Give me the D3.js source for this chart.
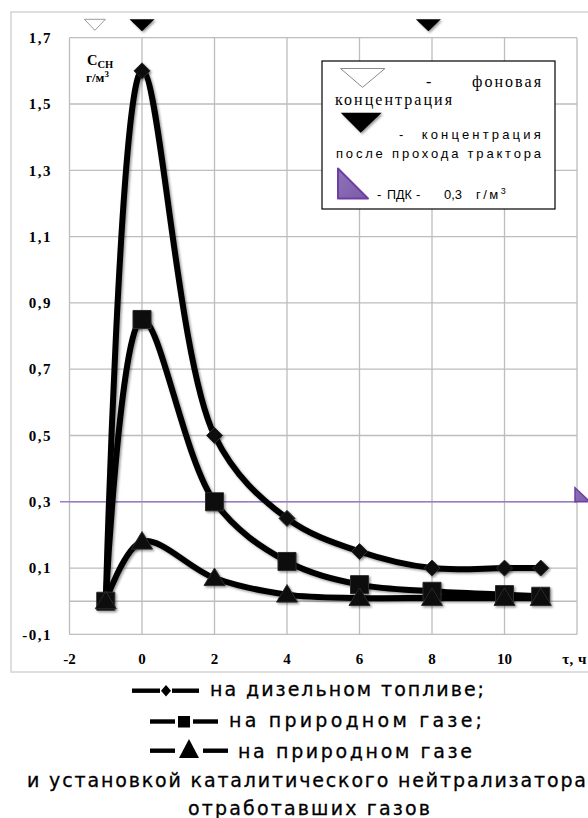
<!DOCTYPE html>
<html>
<head>
<meta charset="utf-8">
<script src="https://cdn.jsdelivr.net/npm/d3@7"></script>
<style>
  html, body { margin: 0; padding: 0; background: #fff; }
  svg { display: block; }
</style>
</head>
<body>
<svg id="chart" width="588" height="818"></svg>
<script>
// Hydrocarbon concentration after a tractor pass, г/м³, vs time τ, ч
const hours       = [-1, 0, 2, 4, 6, 8, 10, 11];
const diesel      = [0, 1.6, 0.5, 0.25, 0.15, 0.1, 0.1, 0.1];
const naturalGas  = [0, 0.85, 0.3, 0.12, 0.05, 0.03, 0.02, 0.015];
const gasCatalyst = [0, 0.18, 0.07, 0.02, 0.01, 0.01, 0.01, 0.01];

const xTicks = [-2, 0, 2, 4, 6, 8, 10];
const xGrid  = [-2, 0, 2, 4, 6, 8, 10, 12];
const yTicks = [-0.1, 0.1, 0.3, 0.5, 0.7, 0.9, 1.1, 1.3, 1.5, 1.7];
const xUnit  = "τ, ч";

const limitValue   = 0.3;     // ПДК
const backgroundAt = [-1.3];  // фоновая концентрация (open marker on top)
const afterPassAt  = [0, 7.9];// после прохода трактора (filled markers on top)

const legendLines = [
  "на дизельном топливе;",
  "на природном газе;",
  "на природном газе",
  "и установкой каталитического нейтрализатора",
  "отработавших газов"
];

const svg = d3.select("#chart");
const x = d3.scaleLinear().domain([-2, 12]).range([69.5, 577]);
const y = d3.scaleLinear().domain([-0.1, 1.7]).range([634.4, 37.7]);
const comma = v => v.toFixed(Number.isInteger(v) ? 0 : 1).replace(".", ",");

// defs: soft shadow + purple fill
const defs = svg.append("defs");
const sh = defs.append("filter").attr("id", "shadow")
  .attr("x", "-30%").attr("y", "-30%").attr("width", "160%").attr("height", "160%");
sh.append("feDropShadow").attr("dx", 1.5).attr("dy", 1.5)
  .attr("stdDeviation", 1.3).attr("flood-color", "#000").attr("flood-opacity", 0.4);
const g2 = defs.append("linearGradient").attr("id", "purple")
  .attr("x1", 0).attr("y1", 0).attr("x2", 1).attr("y2", 1);
g2.append("stop").attr("offset", "0%").attr("stop-color", "#8f74b8");
g2.append("stop").attr("offset", "100%").attr("stop-color", "#7a5aa8");

// outer frame
svg.append("rect").attr("x", 11).attr("y", 12).attr("width", 620).attr("height", 660)
  .attr("fill", "none").attr("stroke", "#d4d4d4").attr("stroke-width", 1.5);

// grid
const grid = svg.append("g").attr("stroke", "#bdbdbd").attr("stroke-width", 1.3);
grid.selectAll("line.v").data(xGrid).join("line")
  .attr("x1", d => x(d)).attr("x2", d => x(d))
  .attr("y1", y(1.7)).attr("y2", y(-0.1));
grid.selectAll("line.h").data(yTicks.concat([0])).join("line")
  .attr("x1", x(-2)).attr("x2", x(12))
  .attr("y1", d => y(d)).attr("y2", d => y(d));

// tick labels
const tickFont = "'Liberation Serif','Times New Roman',serif";
svg.append("g").selectAll("text").data(yTicks).join("text")
  .attr("x", 52).attr("y", d => y(d)).attr("dy", "0.35em")
  .attr("text-anchor", "end").attr("font-family", tickFont)
  .attr("font-weight", "bold").attr("font-size", 15).attr("letter-spacing", 1.5)
  .text(comma);
svg.append("g").selectAll("text").data(xTicks).join("text")
  .attr("x", d => x(d)).attr("y", 659).attr("dy", "0.35em")
  .attr("text-anchor", "middle").attr("font-family", tickFont)
  .attr("font-weight", "bold").attr("font-size", 15)
  .text(d => String(d));
svg.append("text").attr("x", 587).attr("y", 659).attr("dy", "0.35em")
  .attr("text-anchor", "end").attr("font-family", tickFont)
  .attr("font-weight", "bold").attr("font-size", 15).attr("letter-spacing", 0.5)
  .text(xUnit);

// axis title
const yt = svg.append("text").attr("x", 87).attr("y", 65)
  .attr("font-family", tickFont).attr("font-weight", "bold").attr("font-size", 14.5);
yt.append("tspan").text("C");
yt.append("tspan").attr("font-size", 10.5).attr("dy", 3).text("CH");
const yu = svg.append("text").attr("x", 86).attr("y", 82)
  .attr("font-family", tickFont).attr("font-weight", "bold").attr("font-size", 13);
yu.append("tspan").text("г/м");
yu.append("tspan").attr("font-size", 9).attr("dy", -5).text("3");

// ПДК line
svg.append("line").attr("x1", 60).attr("x2", x(12))
  .attr("y1", y(limitValue)).attr("y2", y(limitValue))
  .attr("stroke", "#9a7dc6").attr("stroke-width", 1.6);
svg.append("path")
  .attr("d", `M${x(12) - 2},${y(limitValue) - 14}L${x(12) - 2},${y(limitValue)}L${x(12) + 13},${y(limitValue)}Z`)
  .attr("fill", "url(#purple)").attr("stroke", "#6e3fa3").attr("stroke-width", 1.5);

// top markers
const topY = 19.3;
svg.append("g").selectAll("path").data(backgroundAt).join("path")
  .attr("d", d => `M${x(d) - 10.5},${topY}L${x(d) + 10.5},${topY}L${x(d)},${topY + 11}Z`)
  .attr("fill", "#fff").attr("stroke", "#9a9a9a").attr("stroke-width", 1);
svg.append("g").attr("filter", "url(#shadow)").selectAll("path").data(afterPassAt).join("path")
  .attr("d", d => `M${x(d) - 12.5},${topY}L${x(d) + 12.5},${topY}L${x(d)},${topY + 12}Z`)
  .attr("fill", "#000");

// series
const series = [
  { values: diesel, shape: "diamond" },
  { values: naturalGas, shape: "square" },
  { values: gasCatalyst, shape: "triangle" }
];
const line = d3.line().curve(d3.curveCatmullRom.alpha(0.5))
  .x(d => x(d[0])).y(d => y(d[1]));
const lines = svg.append("g").attr("filter", "url(#shadow)");
series.forEach(s => {
  lines.append("path").datum(hours.map((h, i) => [h, s.values[i]]))
    .attr("d", line).attr("fill", "none").attr("stroke", "#000")
    .attr("stroke-width", 6).attr("stroke-linejoin", "round");
});

function markerPath(shape, cx, cy) {
  if (shape === "diamond") return `M${cx},${cy - 8}L${cx + 8},${cy}L${cx},${cy + 8}L${cx - 8},${cy}Z`;
  if (shape === "square") return `M${cx - 9},${cy - 9}h18v18h-18Z`;
  return `M${cx},${cy - 10}L${cx + 10.5},${cy + 7.5}L${cx - 10.5},${cy + 7.5}Z`;
}
const marks = svg.append("g").attr("filter", "url(#shadow)");
series.forEach(s => {
  marks.append("g").selectAll("path").data(hours.map((h, i) => [h, s.values[i]])).join("path")
    .attr("d", d => markerPath(s.shape, x(d[0]), y(d[1])))
    .attr("fill", "#070707").attr("stroke", "#2e2e2e").attr("stroke-width", 1);
});

// legend box
const serif = "'Liberation Serif','Times New Roman',serif";
const sans = "'Liberation Sans',Arial,sans-serif";
svg.append("rect").attr("x", 322).attr("y", 61).attr("width", 233).attr("height", 148)
  .attr("fill", "#fff").attr("stroke", "#000").attr("stroke-width", 1.2);
svg.append("path").attr("d", "M340.5,68.5L385,68.5L362.5,87.3Z")
  .attr("fill", "#fff").attr("stroke", "#8a8a8a").attr("stroke-width", 1);
svg.append("path").attr("d", "M340.7,112.7L381.7,112.7L360.7,132.7Z")
  .attr("fill", "#000").attr("filter", "url(#shadow)");
svg.append("path").attr("d", "M338,168.5L338,198.5L368,198.5Z")
  .attr("fill", "url(#purple)").attr("stroke", "#6e3fa3").attr("stroke-width", 2)
  .attr("stroke-linejoin", "round");

function put(txt, px, py, font, size, len) {
  const t = svg.append("text").attr("x", px).attr("y", py)
    .attr("font-family", font).attr("font-size", size).attr("fill", "#000").text(txt);
  if (len) t.attr("textLength", len).attr("lengthAdjust", "spacing");
  return t;
}
put("-", 426, 86.5, serif, 16);
put("фоновая", 472, 86.5, serif, 16, 69);
put("концентрация", 335, 104.5, serif, 16, 117);
put("-", 399, 139.3, sans, 13);
put("концентрация", 421.7, 139.3, sans, 13, 119);
put("после прохода трактора", 336, 158.3, sans, 13, 205);
put("-", 377, 199.3, sans, 13);
put("ПДК", 387, 199.3, sans, 12.5);
put("-", 416, 199.3, sans, 13);
put("0,3", 444, 199.3, sans, 13);
const gm = svg.append("text").attr("x", 476).attr("y", 199.3)
  .attr("font-family", sans).attr("font-size", 13);
gm.append("tspan").text("г/м").attr("letter-spacing", 2.5);
gm.append("tspan").attr("font-size", 9).attr("dy", -5).text("3");

// bottom legend
const bfont = "'DejaVu Sans',Verdana,sans-serif";
const leg = svg.append("g");
function dash(x1, x2, cy) {
  leg.append("rect").attr("x", x1).attr("y", cy - 2.2).attr("width", x2 - x1).attr("height", 4.4).attr("fill", "#000");
}
dash(132, 160, 690.7); dash(172, 199, 690.7);
leg.append("path").attr("d", "M166,685L171,690.7L166,696.5L161,690.7Z").attr("fill", "#000");
dash(150, 175, 721.5); dash(193, 218, 721.5);
leg.append("rect").attr("x", 178).attr("y", 716).attr("width", 12).attr("height", 11.5).attr("fill", "#000");
dash(150, 175, 750.7); dash(203, 228, 750.7);
leg.append("path").attr("d", "M189,739L199,758L179,758Z").attr("fill", "#000");

const bottomRows = [
  { x: 210, y: 696.3, w: 274 },
  { x: 229, y: 726.8, w: 253 },
  { x: 238, y: 758.3, w: 234 },
  { x: 27,  y: 786.5, w: 559 },
  { x: 188, y: 814.5, w: 242 }
];
bottomRows.forEach((r, i) => {
  leg.append("text").attr("x", r.x).attr("y", r.y)
    .attr("font-family", bfont).attr("font-size", 19).attr("fill", "#000")
    .attr("stroke", "#000").attr("stroke-width", 0.3)
    .attr("textLength", r.w).attr("lengthAdjust", "spacing")
    .text(legendLines[i]);
});
</script>
</body>
</html>
